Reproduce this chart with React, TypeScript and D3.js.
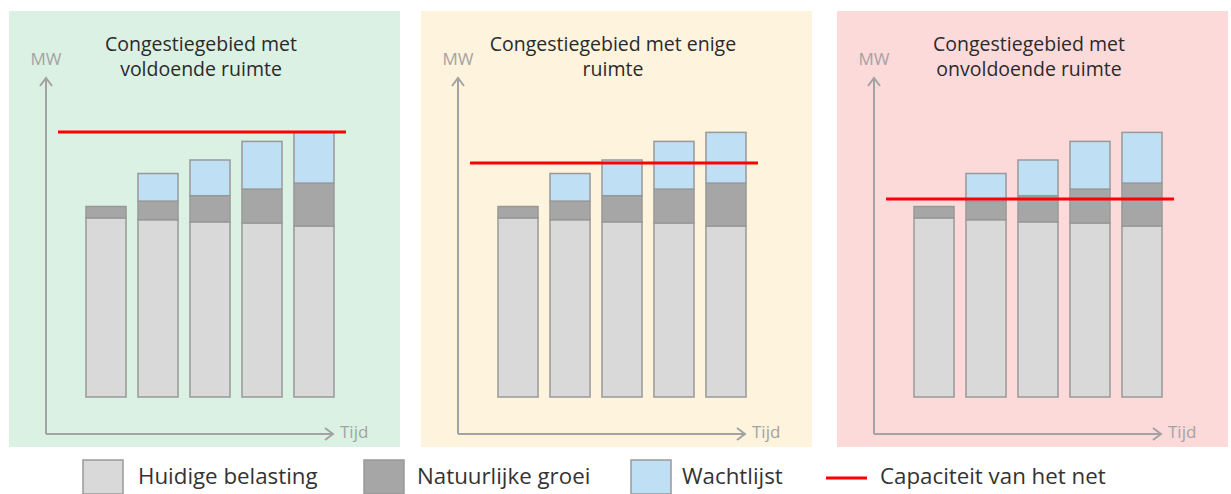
import { useEffect, useRef } from 'react';
import * as d3 from 'd3';

// bar values (MW), same five bars in every panel
const periods = ['t1', 't2', 't3', 't4', 't5'];
const huidigeBelasting = [59.7, 59.1, 58.4, 58.0, 57.0];
const natuurlijkeGroei = [3.8, 6.2, 8.7, 11.3, 14.3];
const wachtlijst = [0, 9.2, 11.9, 15.9, 16.9];

// one panel per congestion situation
const panelTitles = [
  ['Congestiegebied met', 'voldoende ruimte'],
  ['Congestiegebied met enige', 'ruimte'],
  ['Congestiegebied met', 'onvoldoende ruimte'],
];
const capaciteit = [88.3, 78.0, 66.0];
const panelColors = ['#dbf1e4', '#fef3dc', '#fddada'];

const legendLabels = ['Huidige belasting', 'Natuurlijke groei', 'Wachtlijst', 'Capaciteit van het net'];
const segColors = ['#d9d9d9', '#a6a6a6', '#bedff4'];

const FONT = "'Open Sans', sans-serif";

function CongestieChart({ width = 1231, height = 494 }) {
  const svgRef = useRef(null);

  useEffect(() => {
    const svg = d3.select(svgRef.current);
    svg.selectAll('*').remove();

    const panelLefts = [9, 421, 837];
    const panelW = 391;
    const panelTop = 11;
    const panelBottom = 447;
    const baseY = 397;

    const y = d3.scaleLinear().domain([0, 100]).range([baseY, baseY - 300]);
    const x = d3.scaleBand().domain(periods).range([77, 325]).paddingInner(0.23).paddingOuter(0);

    const rows = periods.map((p, i) => ({
      period: p,
      huidig: huidigeBelasting[i],
      groei: natuurlijkeGroei[i],
      wacht: wachtlijst[i],
    }));
    const stacked = d3.stack().keys(['huidig', 'groei', 'wacht'])(rows);

    panelLefts.forEach((left, pi) => {
      const g = svg.append('g').attr('transform', `translate(${left},0)`);

      g.append('rect')
        .attr('x', 0)
        .attr('y', panelTop)
        .attr('width', panelW)
        .attr('height', panelBottom - panelTop)
        .attr('fill', panelColors[pi]);

      // title
      g.append('text')
        .attr('x', 192)
        .attr('y', 51)
        .attr('text-anchor', 'middle')
        .attr('font-family', FONT)
        .attr('font-size', 19.5)
        .attr('fill', '#2a2a2a')
        .selectAll('tspan')
        .data(panelTitles[pi])
        .enter()
        .append('tspan')
        .attr('x', 192)
        .attr('dy', (d, i) => (i === 0 ? 0 : 25))
        .text((d) => d);

      // axes with arrow heads
      const axisColor = '#a3a3a3';
      const ax = 37;
      const ay = 434;
      g.append('path')
        .attr('d', `M${ax},${ay}V78M${ax},${ay}H324`)
        .attr('fill', 'none')
        .attr('stroke', axisColor)
        .attr('stroke-width', 2);
      g.append('path')
        .attr('d', `M${ax - 6},86L${ax},78L${ax + 6},86M316,${ay - 6}L324,${ay}L316,${ay + 6}`)
        .attr('fill', 'none')
        .attr('stroke', axisColor)
        .attr('stroke-width', 2);
      g.append('text')
        .attr('x', 37)
        .attr('y', 65)
        .attr('text-anchor', 'middle')
        .attr('font-family', FONT)
        .attr('font-size', 17)
        .attr('fill', axisColor)
        .text('MW');
      g.append('text')
        .attr('x', 331)
        .attr('y', 438)
        .attr('font-family', FONT)
        .attr('font-size', 17)
        .attr('fill', axisColor)
        .text('Tijd');

      // stacked bars
      stacked.forEach((layer, li) => {
        g.append('g')
          .selectAll('rect')
          .data(layer.filter((d) => d[1] - d[0] > 0))
          .enter()
          .append('rect')
          .attr('x', (d) => x(d.data.period))
          .attr('y', (d) => y(d[1]))
          .attr('width', x.bandwidth())
          .attr('height', (d) => y(d[0]) - y(d[1]))
          .attr('fill', segColors[li])
          .attr('stroke', '#999999')
          .attr('stroke-width', 1.5);
      });

      // grid capacity
      g.append('line')
        .attr('x1', 49)
        .attr('x2', 337)
        .attr('y1', y(capaciteit[pi]))
        .attr('y2', y(capaciteit[pi]))
        .attr('stroke', '#ff0000')
        .attr('stroke-width', 3);
    });

    // legend
    const legendX = [83, 364, 631];
    const legendTextX = [138, 417, 682, 880];
    const legend = svg.append('g');
    legendX.forEach((lx, i) => {
      legend
        .append('rect')
        .attr('x', lx)
        .attr('y', 460)
        .attr('width', 40)
        .attr('height', 34)
        .attr('fill', segColors[i])
        .attr('stroke', '#999999')
        .attr('stroke-width', 1.5);
    });
    legend
      .append('line')
      .attr('x1', 826)
      .attr('x2', 867)
      .attr('y1', 478)
      .attr('y2', 478)
      .attr('stroke', '#ff0000')
      .attr('stroke-width', 3);
    legend
      .selectAll('text')
      .data(legendLabels)
      .enter()
      .append('text')
      .attr('x', (d, i) => legendTextX[i])
      .attr('y', 484)
      .attr('font-family', FONT)
      .attr('font-size', 22.3)
      .attr('fill', '#333333')
      .text((d) => d);
  }, []);

  return (
    <svg
      ref={svgRef}
      width={width}
      height={height}
      style={{ position: 'absolute', left: 0, top: 0, background: '#ffffff' }}
    />
  );
}

export default function App() {
  return <CongestieChart />;
}
